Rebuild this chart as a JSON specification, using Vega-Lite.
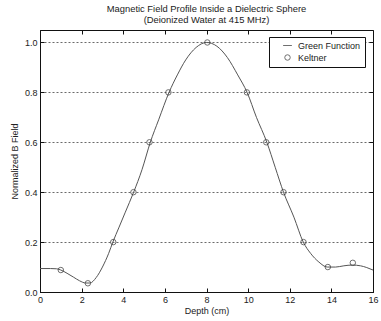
{
  "$schema": "https://vega.github.io/schema/vega-lite/v6.json",
  "width": 333,
  "height": 262,
  "autosize": {"type": "none"},
  "padding": {"left": 40, "top": 30, "right": 8, "bottom": 29},
  "background": "white",
  "config": {
    "view": {"stroke": "#111", "strokeWidth": 1},
    "font": "Liberation Sans",
    "axis": {"labelFont": "Liberation Sans", "titleFont": "Liberation Sans", "labelFontSize": 9, "titleFontSize": 9, "titleFontWeight": "normal", "labelColor": "#222", "titleColor": "#222", "domainColor": "#111", "tickColor": "#111"}
  },
  "title": {
    "text": ["Magnetic Field Profile Inside a Dielectric Sphere", "(Deionized Water at 415 MHz)"],
    "fontSize": 9.4,
    "fontWeight": "normal",
    "font": "Liberation Sans",
    "color": "#222",
    "lineHeight": 11,
    "offset": 4,
    "anchor": "middle"
  },
  "datasets": {
    "curve": [
      {"depth": 0, "b": 0.094}, {"depth": 0.5, "b": 0.094}, {"depth": 0.8, "b": 0.093},
      {"depth": 1.0, "b": 0.088}, {"depth": 1.3, "b": 0.075}, {"depth": 1.6, "b": 0.06},
      {"depth": 1.9, "b": 0.045}, {"depth": 2.2, "b": 0.036}, {"depth": 2.4, "b": 0.036},
      {"depth": 2.7, "b": 0.058}, {"depth": 3.0, "b": 0.1}, {"depth": 3.3, "b": 0.155},
      {"depth": 3.5, "b": 0.2}, {"depth": 3.8, "b": 0.26}, {"depth": 4.1, "b": 0.32},
      {"depth": 4.5, "b": 0.4}, {"depth": 4.9, "b": 0.49}, {"depth": 5.3, "b": 0.6},
      {"depth": 5.7, "b": 0.69}, {"depth": 6.2, "b": 0.8}, {"depth": 6.6, "b": 0.87},
      {"depth": 7.0, "b": 0.93}, {"depth": 7.5, "b": 0.98}, {"depth": 8.0, "b": 1.0},
      {"depth": 8.5, "b": 0.985}, {"depth": 9.0, "b": 0.94}, {"depth": 9.5, "b": 0.87},
      {"depth": 9.95, "b": 0.8}, {"depth": 10.4, "b": 0.7}, {"depth": 10.9, "b": 0.6},
      {"depth": 11.3, "b": 0.5}, {"depth": 11.7, "b": 0.4}, {"depth": 12.2, "b": 0.3},
      {"depth": 12.65, "b": 0.2}, {"depth": 13.0, "b": 0.155}, {"depth": 13.4, "b": 0.12},
      {"depth": 13.8, "b": 0.1}, {"depth": 14.2, "b": 0.1}, {"depth": 14.6, "b": 0.105},
      {"depth": 15.0, "b": 0.108}, {"depth": 15.4, "b": 0.105}, {"depth": 15.7, "b": 0.098},
      {"depth": 16.0, "b": 0.088}
    ],
    "keltner": [
      {"depth": 1.0, "b": 0.088, "series": "Keltner"},
      {"depth": 2.3, "b": 0.035, "series": "Keltner"},
      {"depth": 3.52, "b": 0.2, "series": "Keltner"},
      {"depth": 4.49, "b": 0.4, "series": "Keltner"},
      {"depth": 5.26, "b": 0.6, "series": "Keltner"},
      {"depth": 6.17, "b": 0.8, "series": "Keltner"},
      {"depth": 8.04, "b": 1.0, "series": "Keltner"},
      {"depth": 9.94, "b": 0.8, "series": "Keltner"},
      {"depth": 10.87, "b": 0.6, "series": "Keltner"},
      {"depth": 11.7, "b": 0.4, "series": "Keltner"},
      {"depth": 12.66, "b": 0.2, "series": "Keltner"},
      {"depth": 13.83, "b": 0.1, "series": "Keltner"},
      {"depth": 15.03, "b": 0.117, "series": "Keltner"}
    ]
  },
  "resolve": {"axis": {"x": "independent", "y": "independent"}},
  "layer": [
    {
      "data": {"name": "curve"},
      "mark": {"type": "line", "color": "#555", "strokeWidth": 1, "interpolate": "monotone", "clip": true},
      "encoding": {
        "x": {"field": "depth", "type": "quantitative", "scale": {"domain": [0, 16], "nice": false},
          "axis": {"orient": "bottom", "title": "Depth (cm)", "values": [0, 2, 4, 6, 8, 10, 12, 14, 16], "grid": false, "tickSize": -4, "labelPadding": 7, "titlePadding": 2, "labelFlush": false}},
        "y": {"field": "b", "type": "quantitative", "scale": {"domain": [0, 1.05], "nice": false},
          "axis": {"orient": "left", "title": "Normalized B Field", "values": [0, 0.2, 0.4, 0.6, 0.8, 1], "grid": true, "gridDash": [2, 2], "gridColor": "#444", "gridWidth": 0.8, "tickSize": -4, "labelPadding": 7, "titlePadding": 5, "labelFlush": false}}
      }
    },
    {
      "data": {"name": "keltner"},
      "mark": {"type": "point", "filled": false, "color": "#333", "strokeWidth": 1, "size": 30},
      "encoding": {
        "x": {"field": "depth", "type": "quantitative",
          "axis": {"orient": "top", "title": null, "labels": false, "values": [0, 2, 4, 6, 8, 10, 12, 14, 16], "grid": false, "tickSize": -4, "domain": false}},
        "y": {"field": "b", "type": "quantitative",
          "axis": {"orient": "right", "title": null, "labels": false, "values": [0, 0.2, 0.4, 0.6, 0.8, 1], "grid": false, "tickSize": -4, "domain": false}},
        "shape": {"field": "series", "type": "nominal",
          "scale": {"domain": ["Green Function", "Keltner"], "range": ["M-1.6,0L1.6,0", "circle"]},
          "legend": {"title": null, "orient": "none", "legendX": 229, "legendY": 7, "strokeColor": "#111", "fillColor": "white", "padding": 4, "labelFontSize": 9, "labelFont": "Liberation Sans", "labelColor": "#222", "symbolSize": 30, "symbolStrokeWidth": 1, "symbolStrokeColor": "#333", "symbolOffset": 10, "rowPadding": 1, "labelOffset": 6}}
      }
    }
  ]
}
